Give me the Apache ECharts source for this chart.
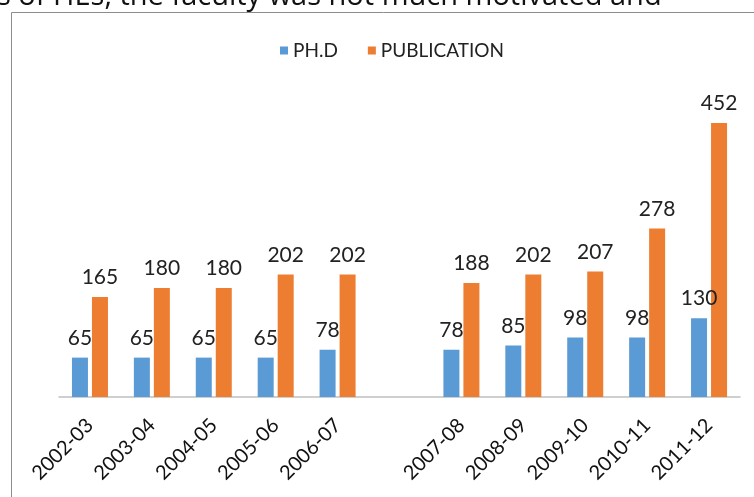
<!DOCTYPE html>
<html>
<head>
<meta charset="utf-8">
<script src="https://cdn.jsdelivr.net/npm/echarts@6/dist/echarts.min.js"></script>
<style>
  html, body { margin: 0; padding: 0; background: #fff; }
  #main { width: 754px; height: 497px; }
</style>
</head>
<body>
<div id="main"></div>
<script>
// years, with one empty slot between 2006-07 and 2007-08 like the original
var years = ['2002-03', '2003-04', '2004-05', '2005-06', '2006-07', '',
             '2007-08', '2008-09', '2009-10', '2010-11', '2011-12'];
var phd = [65, 65, 65, 65, 78, null, 78, 85, 98, 98, 130];
var publication = [165, 180, 180, 202, 202, null, 188, 202, 207, 278, 452];

var chart = echarts.init(document.getElementById('main'));

var font = 'Lato, "Noto Sans", sans-serif';

var option = {
    backgroundColor: '#fff',
    animation: false,
    textStyle: { fontFamily: font },
    graphic: [
        {
            type: 'text',
            left: -3,
            top: -18,
            style: {
                text: 's of HEs, the faculty was not much motivated and',
                font: '29px "Open Sans", sans-serif',
                fill: '#111'
            }
        },
        {
            type: 'rect',
            shape: { x: 11.5, y: 12.5, width: 770, height: 500 },
            style: { fill: 'none', stroke: '#8c8c8c', lineWidth: 1 },
            z: -1
        }
    ],
    legend: {
        top: 36,
        left: 275,
        itemWidth: 8,
        itemHeight: 8,
        itemGap: 30,
        icon: 'rect',
        textStyle: { fontSize: 19, color: '#222', fontFamily: font },
        data: ['PH.D', 'PUBLICATION']
    },
    grid: {
        left: 59,
        right: 14,
        top: 94,
        bottom: 100
    },
    xAxis: {
        type: 'category',
        data: years,
        axisTick: { show: false },
        axisLine: { lineStyle: { color: '#c0c0c0', width: 1.5 } },
        axisLabel: {
            interval: 0,
            rotate: 45,
            margin: 25,
            fontSize: 20,
            color: '#111',
            fontFamily: font
        }
    },
    yAxis: {
        type: 'value',
        min: 0,
        max: 500,
        show: false,
        splitLine: { show: false }
    },
    series: [
        {
            name: 'PH.D',
            type: 'bar',
            data: phd,
            barWidth: 16,
            barGap: '25%',
            itemStyle: { color: '#5b9bd5' },
            label: {
                show: true,
                position: 'top',
                distance: 9,
                fontSize: 21,
                color: '#222',
                fontFamily: font
            }
        },
        {
            name: 'PUBLICATION',
            type: 'bar',
            data: publication,
            barWidth: 16,
            itemStyle: { color: '#ed7d31' },
            label: {
                show: true,
                position: 'top',
                distance: 9,
                fontSize: 21,
                color: '#222',
                fontFamily: font
            }
        }
    ]
};

chart.setOption(option);
</script>
</body>
</html>
